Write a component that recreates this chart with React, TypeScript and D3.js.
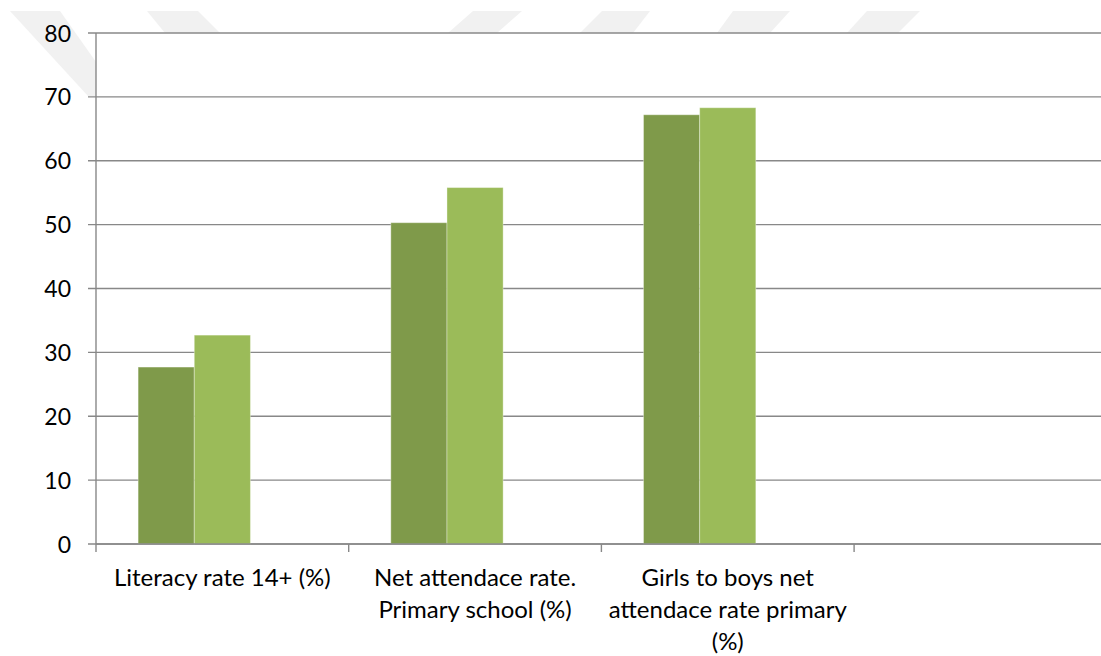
import React from 'react';
import * as d3 from 'd3';

// Chart data
const categories: string[] = [
  'Literacy rate 14+ (%)',
  'Net attendace rate.\nPrimary school (%)',
  'Girls to boys net\nattendace rate primary\n(%)',
  '',
];
const seriesNames: string[] = ['Series 1', 'Series 2', 'Series 3'];
const series1: (number | null)[] = [27.7, 50.3, 67.2, null];
const series2: (number | null)[] = [32.7, 55.8, 68.3, null];
const series3: (number | null)[] = [null, null, null, null];
const yTicks: number[] = [0, 10, 20, 30, 40, 50, 60, 70, 80];

const seriesValues = [series1, series2, series3];
const seriesColors = ['#7f9a4a', '#9bbb59', '#c3d69b'];

const W = 1101;
const H = 656;
const left = 96;
const slot = 252.7;
const top = 33;
const bottom = 544;
const font = 'Lato, "Open Sans", sans-serif';

// decorative watermark fragments behind the chart
const watermark: string[] = [
  'M10,11 L60,11 L96,62 L96,96 L88,96 Z',
  'M147,11 L198,11 L220,33 L165,33 Z',
  'M473,11 L522,11 L497,33 L448,33 Z',
  'M602,11 L650,11 L633,33 L580,33 Z',
  'M733,11 L790,11 L770,33 L717,33 Z',
  'M867,11 L920,11 L898,33 L847,33 Z',
];

const App: React.FC = () => {
  const x0 = d3.scaleBand<number>()
    .domain(categories.map((_, i) => i))
    .range([left, left + slot * categories.length])
    .padding(0);
  const bw = x0.bandwidth();
  // Excel-style gap width of 150%
  const barW = bw / (seriesNames.length + 1.5);
  const x1 = d3.scaleBand<string>()
    .domain(seriesNames)
    .range([barW * 0.75, bw - barW * 0.75])
    .padding(0);
  const y = d3.scaleLinear().domain([0, 80]).range([bottom, top]);

  const gridColor = '#888888';

  return (
    <svg width={W} height={H} style={{ position: 'absolute', left: 0, top: 0, background: '#fff' }}>
      {watermark.map((d, i) => (
        <path key={i} d={d} fill="#f1f1f1" />
      ))}

      {/* gridlines */}
      {yTicks.map((t) => (
        <line key={t} x1={left - 8} x2={W} y1={y(t)} y2={y(t)} stroke={gridColor} strokeWidth={1.4} />
      ))}

      {/* bars */}
      {categories.map((_, ci) => (
        <g key={ci} transform={`translate(${x0(ci)},0)`}>
          {seriesNames.map((s, si) => {
            const v = seriesValues[si][ci];
            if (v == null) return null;
            return (
              <rect
                key={s}
                x={x1(s)}
                y={y(v)}
                width={x1.bandwidth()}
                height={y(0) - y(v)}
                fill={seriesColors[si]}
                stroke="rgba(255,255,255,0.35)"
                strokeWidth={1}
              />
            );
          })}
        </g>
      ))}

      {/* axes */}
      <line x1={left} x2={left} y1={top} y2={bottom + 8} stroke={gridColor} strokeWidth={1.4} />
      <line x1={left} x2={W} y1={bottom} y2={bottom} stroke={gridColor} strokeWidth={1.4} />
      {categories.map((_, ci) => (
        <line
          key={ci}
          x1={(x0(ci) as number) + bw}
          x2={(x0(ci) as number) + bw}
          y1={bottom}
          y2={bottom + 8}
          stroke={gridColor}
          strokeWidth={1.4}
        />
      ))}

      {/* y tick labels */}
      {yTicks.map((t) => (
        <text key={t} x={71} y={y(t) + 8.5} textAnchor="end" fontFamily={font} fontSize={23} fill="#000">
          {t}
        </text>
      ))}

      {/* category labels */}
      {categories.map((c, ci) => (
        <text key={ci} textAnchor="middle" fontFamily={font} fontSize={24} fill="#000">
          {c.split('\n').map((line, li) => (
            <tspan key={li} x={(x0(ci) as number) + bw / 2} y={586 + li * 32}>
              {line}
            </tspan>
          ))}
        </text>
      ))}
    </svg>
  );
};

export default App;
